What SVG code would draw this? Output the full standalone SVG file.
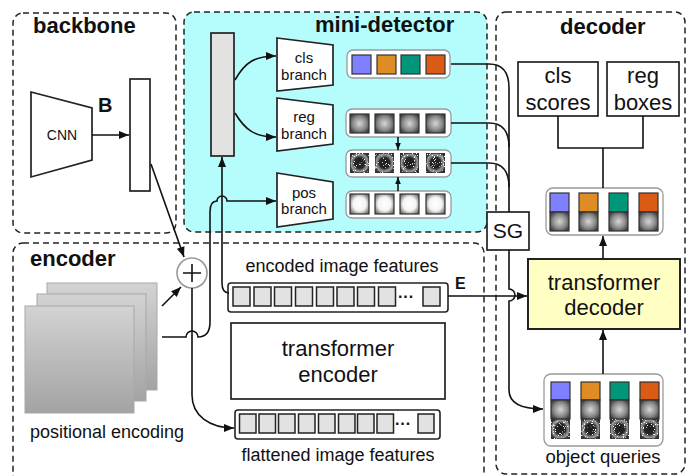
<svg xmlns="http://www.w3.org/2000/svg" width="687" height="476" viewBox="0 0 687 476">
<style>
text{font-family:"Liberation Sans",Arial,sans-serif;fill:#111}
.title{font-size:22px;font-weight:bold}
.dash{fill:none;stroke:#222;stroke-width:1.5;stroke-dasharray:6 4}
.box{fill:#fff;stroke:#222;stroke-width:1.7}
.row{fill:#fff;stroke:#9a9a9a;stroke-width:1.3}
.sq{stroke:#333;stroke-width:1.2}
.fsq{fill:#e2e2e2;stroke:#222;stroke-width:1.5}
.fbox{fill:#fff;stroke:#222;stroke-width:1.6}
.ln{fill:none;stroke:#111;stroke-width:1.6}
.mid{text-anchor:middle}
</style>
<defs>
<marker id="ah" viewBox="0 0 10 8" refX="10" refY="4" markerWidth="11" markerHeight="8" markerUnits="userSpaceOnUse" orient="auto"><path d="M0,0 L10,4 L0,8 z" fill="#111"/></marker>
<marker id="ahs" viewBox="0 0 10 8" refX="10" refY="4" markerWidth="7" markerHeight="6" markerUnits="userSpaceOnUse" orient="auto"><path d="M0,0 L10,4 L0,8 z" fill="#111"/></marker>
<radialGradient id="gReg" cx="50%" cy="50%" r="60%"><stop offset="0" stop-color="#d6d6d6"/><stop offset="0.6" stop-color="#8a8a8a"/><stop offset="1" stop-color="#3e3e3e"/></radialGradient>
<radialGradient id="gPos" cx="50%" cy="50%" r="62%"><stop offset="0" stop-color="#fff"/><stop offset="0.55" stop-color="#f4f4f4"/><stop offset="1" stop-color="#6a6a6a"/></radialGradient>
<radialGradient id="gNoise" cx="50%" cy="50%" r="60%"><stop offset="0" stop-color="#1c1c1c"/><stop offset="0.45" stop-color="#262626"/><stop offset="0.62" stop-color="#7a7a7a"/><stop offset="0.75" stop-color="#9a9a9a"/><stop offset="0.88" stop-color="#444"/><stop offset="1" stop-color="#2e2e2e"/></radialGradient>
<linearGradient id="gPE" x1="0" y1="0" x2="0" y2="1"><stop offset="0" stop-color="#d3d3d3"/><stop offset="1" stop-color="#a3a3a3"/></linearGradient>
<filter id="speck" x="0" y="0" width="100%" height="100%"><feTurbulence type="fractalNoise" baseFrequency="0.9" numOctaves="1" seed="3" result="n"/><feColorMatrix in="n" type="matrix" values="0 0 0 0 1  0 0 0 0 1  0 0 0 0 1  0 0 0 12 -7.6" result="m"/><feComposite in="m" in2="SourceGraphic" operator="in" result="w"/><feMerge><feMergeNode in="SourceGraphic"/><feMergeNode in="w"/></feMerge></filter>
</defs>

<!-- region boxes -->
<g id="backbone">
<rect class="dash" x="13" y="13" width="163" height="220" rx="10"/>
<text class="title" x="33" y="33">backbone</text>
</g>
<g id="mini-detector">
<rect class="dash" x="184" y="12" width="303" height="220" rx="10" style="fill:#b5fdfd"/>
<text class="title" x="315" y="32">mini-detector</text>
</g>
<g id="encoder">
<rect class="dash" x="13" y="243" width="471" height="250" rx="10"/>
<text class="title" x="30" y="266">encoder</text>
</g>
<g id="decoder">
<rect class="dash" x="496" y="12" width="189" height="462" rx="10"/>
<text class="title" x="560" y="34">decoder</text>
</g>

<!-- backbone nodes -->
<g id="cnn">
<polygon points="31,92 92,108 92,160 31,177" fill="#fff" stroke="#222" stroke-width="1.7"/>
<text class="mid" x="62" y="140" font-size="14">CNN</text>
</g>
<g id="backbone-features">
<rect class="box" x="130" y="79" width="20" height="112"/>
<text x="98" y="112" font-size="20" font-weight="bold">B</text>
</g>

<!-- mini-detector nodes -->
<g id="md-features"><rect x="211" y="33" width="23" height="123" fill="#e2e2e2" stroke="#222" stroke-width="1.7"/></g>
<g id="cls-branch">
<polygon points="277,38 333,45 333,85 277,91" fill="#fff" stroke="#222" stroke-width="1.7"/>
<text class="mid" x="304" y="63" font-size="15">cls</text>
<text class="mid" x="304" y="80" font-size="15">branch</text>
</g>
<g id="reg-branch">
<polygon points="277,98 333,105 333,144 277,151" fill="#fff" stroke="#222" stroke-width="1.7"/>
<text class="mid" x="304" y="122" font-size="15">reg</text>
<text class="mid" x="304" y="139" font-size="15">branch</text>
</g>
<g id="pos-branch">
<polygon points="277,173 333,182 333,219 277,227" fill="#fff" stroke="#222" stroke-width="1.7"/>
<text class="mid" x="304" y="198" font-size="15">pos</text>
<text class="mid" x="304" y="214" font-size="15">branch</text>
</g>
<g id="cls-row">
<rect class="row" x="347" y="50" width="103" height="28" rx="6"/>
<rect class="sq" x="352" y="55" width="19" height="19" fill="#7f7fff"/>
<rect class="sq" x="377" y="55" width="19" height="19" fill="#e08c24"/>
<rect class="sq" x="401" y="55" width="19" height="19" fill="#00967a"/>
<rect class="sq" x="426" y="55" width="19" height="19" fill="#d95b14"/>
</g>
<g id="reg-row">
<rect class="row" x="346" y="109" width="105" height="28" rx="6"/>
<rect class="sq" x="350" y="114" width="19" height="19" fill="url(#gReg)"/>
<rect class="sq" x="375" y="114" width="19" height="19" fill="url(#gReg)"/>
<rect class="sq" x="400" y="114" width="19" height="19" fill="url(#gReg)"/>
<rect class="sq" x="426" y="114" width="19" height="19" fill="url(#gReg)"/>
</g>
<g id="noise-row">
<rect class="row" x="346" y="150" width="105" height="27" rx="6"/>
<rect class="sq" x="350" y="153" width="19" height="20" fill="url(#gNoise)" filter="url(#speck)"/>
<rect class="sq" x="375" y="153" width="19" height="20" fill="url(#gNoise)" filter="url(#speck)"/>
<rect class="sq" x="400" y="153" width="19" height="20" fill="url(#gNoise)" filter="url(#speck)"/>
<rect class="sq" x="426" y="153" width="19" height="20" fill="url(#gNoise)" filter="url(#speck)"/>
</g>
<g id="pos-row">
<rect class="row" x="346" y="191" width="105" height="27" rx="6"/>
<rect class="sq" x="350" y="194" width="19" height="20" fill="url(#gPos)"/>
<rect class="sq" x="375" y="194" width="19" height="20" fill="url(#gPos)"/>
<rect class="sq" x="400" y="194" width="19" height="20" fill="url(#gPos)"/>
<rect class="sq" x="426" y="194" width="19" height="20" fill="url(#gPos)"/>
</g>

<!-- encoder nodes -->
<g id="positional-encoding">
<rect x="47" y="283" width="110" height="107" fill="url(#gPE)" stroke="#a8a8a8" stroke-width="1"/>
<rect x="37" y="294" width="109" height="107" fill="url(#gPE)" stroke="#a8a8a8" stroke-width="1"/>
<rect x="25" y="306" width="109" height="107" fill="url(#gPE)" stroke="#a8a8a8" stroke-width="1"/>
<text x="30" y="438" font-size="18">positional encoding</text>
</g>
<g id="plus">
<circle cx="192" cy="273" r="15" fill="#fff" stroke="#999" stroke-width="1.6"/>
<path d="M183,273 H201 M192,264 V282" stroke="#111" stroke-width="1.6"/>
</g>
<g id="encoded-features">
<text class="mid" x="342" y="272" font-size="18">encoded image features</text>
<rect class="fbox" x="228" y="283" width="220" height="29" rx="3"/>
<rect class="fsq" x="233" y="287" width="17" height="19"/>
<rect class="fsq" x="254" y="287" width="17" height="19"/>
<rect class="fsq" x="274.5" y="287" width="17" height="19"/>
<rect class="fsq" x="295.5" y="287" width="17" height="19"/>
<rect class="fsq" x="316.5" y="287" width="17" height="19"/>
<rect class="fsq" x="337" y="287" width="17" height="19"/>
<rect class="fsq" x="357.5" y="287" width="17" height="19"/>
<rect class="fsq" x="378.5" y="287" width="17" height="19"/>
<text x="398" y="302" font-size="16" font-weight="bold">···</text>
<rect class="fsq" x="423" y="287" width="17" height="19"/>
<text x="455" y="289" font-size="16" font-weight="bold">E</text>
</g>
<g id="transformer-encoder">
<rect class="box" x="231" y="323" width="214" height="76"/>
<text class="mid" x="338" y="356" font-size="22">transformer</text>
<text class="mid" x="338" y="382" font-size="22">encoder</text>
</g>
<g id="flattened-features">
<rect class="fbox" x="235" y="410" width="205" height="29" rx="3"/>
<rect class="fsq" x="239.5" y="414" width="16.5" height="19"/>
<rect class="fsq" x="259" y="414" width="16.5" height="19"/>
<rect class="fsq" x="278.5" y="414" width="16.5" height="19"/>
<rect class="fsq" x="298.5" y="414" width="16.5" height="19"/>
<rect class="fsq" x="318.5" y="414" width="16.5" height="19"/>
<rect class="fsq" x="338.5" y="414" width="16.5" height="19"/>
<rect class="fsq" x="357.5" y="414" width="16.5" height="19"/>
<rect class="fsq" x="377" y="414" width="16.5" height="19"/>
<text x="395" y="429" font-size="16" font-weight="bold">···</text>
<rect class="fsq" x="418" y="414" width="16" height="19"/>
<text class="mid" x="338" y="461" font-size="18">flattened image features</text>
</g>

<!-- SG -->
<g id="sg">
<rect class="box" x="487" y="212" width="42" height="38"/>
<text class="mid" x="508" y="238" font-size="21">SG</text>
</g>

<!-- decoder nodes -->
<g id="cls-scores">
<rect class="box" x="518" y="62" width="80" height="54"/>
<text class="mid" x="558" y="83" font-size="22">cls</text>
<text class="mid" x="558" y="110" font-size="22">scores</text>
</g>
<g id="reg-boxes">
<rect class="box" x="607" y="62" width="72" height="54"/>
<text class="mid" x="643" y="83" font-size="22">reg</text>
<text class="mid" x="643" y="110" font-size="22">boxes</text>
</g>
<g id="decoder-output">
<rect class="row" x="546" y="188" width="117" height="47" rx="7"/>
<rect class="sq" x="550" y="193" width="19" height="19" fill="#7f7fff"/>
<rect class="sq" x="579" y="193" width="19" height="19" fill="#e08c24"/>
<rect class="sq" x="609" y="193" width="19" height="19" fill="#00967a"/>
<rect class="sq" x="639" y="193" width="19" height="19" fill="#d95b14"/>
<rect class="sq" x="550" y="212" width="19" height="19" fill="url(#gReg)"/>
<rect class="sq" x="579" y="212" width="19" height="19" fill="url(#gReg)"/>
<rect class="sq" x="609" y="212" width="19" height="19" fill="url(#gReg)"/>
<rect class="sq" x="639" y="212" width="19" height="19" fill="url(#gReg)"/>
</g>
<g id="transformer-decoder">
<rect x="528" y="259" width="152" height="70" fill="#ffffc4" stroke="#222" stroke-width="2"/>
<text class="mid" x="604" y="290" font-size="22">transformer</text>
<text class="mid" x="604" y="315" font-size="22">decoder</text>
</g>
<g id="object-queries">
<rect class="row" x="544" y="374" width="119" height="72" rx="7"/>
<rect class="sq" x="551" y="382" width="19" height="18" fill="#7f7fff"/>
<rect class="sq" x="581" y="382" width="19" height="18" fill="#e08c24"/>
<rect class="sq" x="610" y="382" width="19" height="18" fill="#00967a"/>
<rect class="sq" x="640" y="382" width="19" height="18" fill="#d95b14"/>
<rect class="sq" x="551" y="400" width="19" height="19" fill="url(#gReg)"/>
<rect class="sq" x="581" y="400" width="19" height="19" fill="url(#gReg)"/>
<rect class="sq" x="610" y="400" width="19" height="19" fill="url(#gReg)"/>
<rect class="sq" x="640" y="400" width="19" height="19" fill="url(#gReg)"/>
<rect class="sq" x="551" y="419" width="19" height="20" fill="url(#gNoise)" filter="url(#speck)"/>
<rect class="sq" x="581" y="419" width="19" height="20" fill="url(#gNoise)" filter="url(#speck)"/>
<rect class="sq" x="610" y="419" width="19" height="20" fill="url(#gNoise)" filter="url(#speck)"/>
<rect class="sq" x="640" y="419" width="19" height="20" fill="url(#gNoise)" filter="url(#speck)"/>
<text class="mid" x="603" y="463" font-size="18.5">object queries</text>
</g>

<!-- connectors -->
<g id="connectors">
<path class="ln" d="M92,135 H129" marker-end="url(#ah)"/>
<path class="ln" d="M151,164 L184,257" marker-end="url(#ah)"/>
<path class="ln" d="M162,306 L181,287" marker-end="url(#ah)"/>
<path class="ln" d="M192,288 V395 C192,416 210,428 234,428" marker-end="url(#ah)"/>
<path class="ln" d="M162,337 H186 A6,6 0 0 1 198,337 C206,337 210,332 210,322 V212 C210,205 212,201 217,201 A5,5 0 0 1 227,201 H276" marker-end="url(#ah)"/>
<path class="ln" d="M229,293 C224,293 222,290 222,283 V157" marker-end="url(#ah)"/>
<path class="ln" d="M235,80 C245,62 255,56 276,56" marker-end="url(#ah)"/>
<path class="ln" d="M235,113 C245,130 255,137 276,137" marker-end="url(#ah)"/>
<path class="ln" d="M398,137 V150" stroke-width="1.3" marker-end="url(#ahs)"/>
<path class="ln" d="M398,191 V177" stroke-width="1.3" marker-end="url(#ahs)"/>
<path class="ln" d="M451,64 H489 C502,64 509,72 509,88 V212"/>
<path class="ln" d="M451,123 H489 C502,123 509,131 509,147"/>
<path class="ln" d="M451,163 H489 C502,163 509,171 509,187"/>
<path class="ln" d="M509,250 V289 A6,6 0 0 1 509,301 V390 C509,402 520,409 543,409" marker-end="url(#ah)"/>
<path class="ln" d="M448,296 H527" marker-end="url(#ah)"/>
<path class="ln" d="M603,374 V330" marker-end="url(#ah)"/>
<path class="ln" d="M603,258 V236" marker-end="url(#ah)"/>
<path class="ln" d="M603,188 V148 M558,116 V148 H643 V116"/>
</g>
</svg>
